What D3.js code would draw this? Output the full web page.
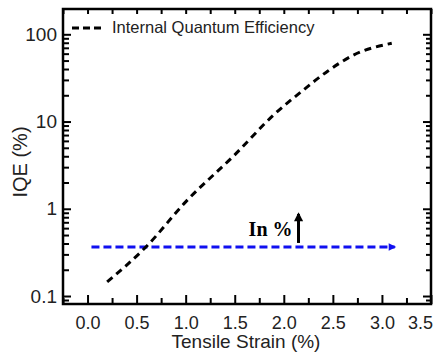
<!DOCTYPE html>
<html>
<head>
<meta charset="utf-8">
<title>IQE vs Tensile Strain</title>
<script src="https://cdn.jsdelivr.net/npm/d3@7"></script>
<style>
  body { margin: 0; background: #fff; }
  text { font-family: "Liberation Sans", Arial, sans-serif; fill: #222; }
</style>
</head>
<body>
<div id="chart"></div>
<script>

var strain = [0.2, 0.6, 1.0, 1.5, 1.9, 2.2, 2.45, 2.7, 3.1];
var iqe = [0.145, 0.37, 1.2, 4.15, 12, 23, 38, 57, 79];
var xTicks = [0.0, 0.5, 1.0, 1.5, 2.0, 2.5, 3.0, 3.5];
var yTicks = [0.1, 1, 10, 100];
var arrowX = [0.04, 3.13], arrowY = 0.365;  // blue reference line
var markX = 2.15;                           // "In %" up-arrow position

var width = 434, height = 353;
var m = { left: 63, right: 3, top: 9, bottom: 49 };
var w = width - m.left - m.right, h = height - m.top - m.bottom;

var svg = d3.select("#chart").append("svg")
    .attr("width", width).attr("height", height);

var g = svg.append("g").attr("transform", "translate(" + m.left + "," + m.top + ")");

var x = d3.scaleLinear().domain([-0.25, 3.5]).range([0, w]);
var y = d3.scaleLog().domain([0.081, 195]).range([h, 0]);

var defs = svg.append("defs");
defs.append("marker").attr("id", "blueHead")
    .attr("viewBox", "0 0 10 10").attr("refX", 8).attr("refY", 5)
    .attr("markerWidth", 3).attr("markerHeight", 2.5).attr("orient", "auto")
    .attr("markerUnits", "strokeWidth")
  .append("path").attr("d", "M0,0L10,5L0,10z").attr("fill", "#1010f0");
defs.append("marker").attr("id", "blackHead")
    .attr("viewBox", "0 0 10 10").attr("refX", 8).attr("refY", 5)
    .attr("markerWidth", 3.4).attr("markerHeight", 3).attr("orient", "auto")
    .attr("markerUnits", "strokeWidth")
  .append("path").attr("d", "M0,0L10,5L0,10z").attr("fill", "#000");

// minor ticks
var xMinor = d3.range(-0.25, 3.51, 0.25).filter(function(d){ return Math.abs(d * 2 - Math.round(d * 2)) > 0.01; });
var yMinor = [];
[0.01, 0.1, 1, 10, 100].forEach(function(dec){
  d3.range(2, 10).forEach(function(k){
    var v = dec * k;
    if (v > 0.082 && v < 190) yMinor.push(v);
  });
});

// bottom axis
g.append("g").attr("transform", "translate(0," + h + ")")
  .call(d3.axisBottom(x).tickValues(xTicks).tickSize(-9).tickPadding(12).tickFormat(d3.format(".1f")))
  .call(function(a){
    a.select(".domain").remove();
    a.selectAll("text").style("font-size", "18px");
    // last label sits inside the frame edge, as in the original
    a.selectAll("text").filter(function(d){ return d === 3.5; }).attr("dx", -11);
  });
g.append("g").attr("transform", "translate(0," + h + ")")
  .call(d3.axisBottom(x).tickValues(xMinor).tickSize(-6).tickFormat(""))
  .call(function(a){ a.select(".domain").remove(); });

// top axis
g.append("g")
  .call(d3.axisTop(x).tickValues(xTicks.concat(xMinor)).tickSize(-5).tickFormat(""))
  .call(function(a){ a.select(".domain").remove(); });

// left axis
g.append("g")
  .call(d3.axisLeft(y).tickValues(yTicks).tickSize(-8).tickPadding(6).tickFormat(d3.format("~g")))
  .call(function(a){ a.select(".domain").remove(); a.selectAll("text").style("font-size", "19px"); });
g.append("g")
  .call(d3.axisLeft(y).tickValues(yMinor).tickSize(-6).tickFormat(""))
  .call(function(a){ a.select(".domain").remove(); });

// right axis
g.append("g").attr("transform", "translate(" + w + ",0)")
  .call(d3.axisRight(y).tickValues(yTicks).tickSize(-8).tickFormat(""))
  .call(function(a){ a.select(".domain").remove(); });
g.append("g").attr("transform", "translate(" + w + ",0)")
  .call(d3.axisRight(y).tickValues(yMinor).tickSize(-5).tickFormat(""))
  .call(function(a){ a.select(".domain").remove(); });

g.selectAll(".tick line").attr("stroke", "#000").attr("stroke-width", 2);

// frame
g.append("rect").attr("width", w).attr("height", h)
  .attr("fill", "none").attr("stroke", "#000").attr("stroke-width", 2.5);

// blue horizontal arrow
g.append("line")
  .attr("x1", x(arrowX[0])).attr("x2", x(arrowX[1]))
  .attr("y1", y(arrowY)).attr("y2", y(arrowY))
  .attr("stroke", "#1010f0").attr("stroke-width", 3)
  .attr("stroke-dasharray", "8,4")
  .attr("marker-end", "url(#blueHead)");

// IQE curve
var line = d3.line()
  .x(function(d){ return x(d[0]); })
  .y(function(d){ return y(d[1]); })
  .curve(d3.curveMonotoneX);

g.append("path")
  .datum(d3.zip(strain, iqe))
  .attr("d", line)
  .attr("fill", "none").attr("stroke", "#000")
  .attr("stroke-width", 3).attr("stroke-dasharray", "7,5");

// "In %" annotation
g.append("line")
  .attr("x1", x(markX)).attr("x2", x(markX))
  .attr("y1", y(arrowY) - 4).attr("y2", y(arrowY) - 33)
  .attr("stroke", "#000").attr("stroke-width", 3)
  .attr("marker-end", "url(#blackHead)");
g.append("text")
  .attr("x", x(markX) - 6).attr("y", y(arrowY) - 11)
  .attr("text-anchor", "end")
  .style("font-family", "'Liberation Serif', 'Times New Roman', serif")
  .style("font-weight", "bold").style("font-size", "20px").style("fill", "#000")
  .text("In %");

// legend
g.append("line")
  .attr("x1", 9).attr("x2", 40).attr("y1", 19).attr("y2", 19)
  .attr("stroke", "#000").attr("stroke-width", 3).attr("stroke-dasharray", "7,4");
g.append("text")
  .attr("x", 49).attr("y", 24)
  .style("font-size", "16.5px")
  .text("Internal Quantum Efficiency");

// axis titles
svg.append("text")
  .attr("x", 246).attr("y", 348)
  .attr("text-anchor", "middle").style("font-size", "19px")
  .text("Tensile Strain (%)");
svg.append("text")
  .attr("transform", "translate(27,162) rotate(-90)")
  .attr("text-anchor", "middle").style("font-size", "20px")
  .text("IQE (%)");

</script>
</body>
</html>
